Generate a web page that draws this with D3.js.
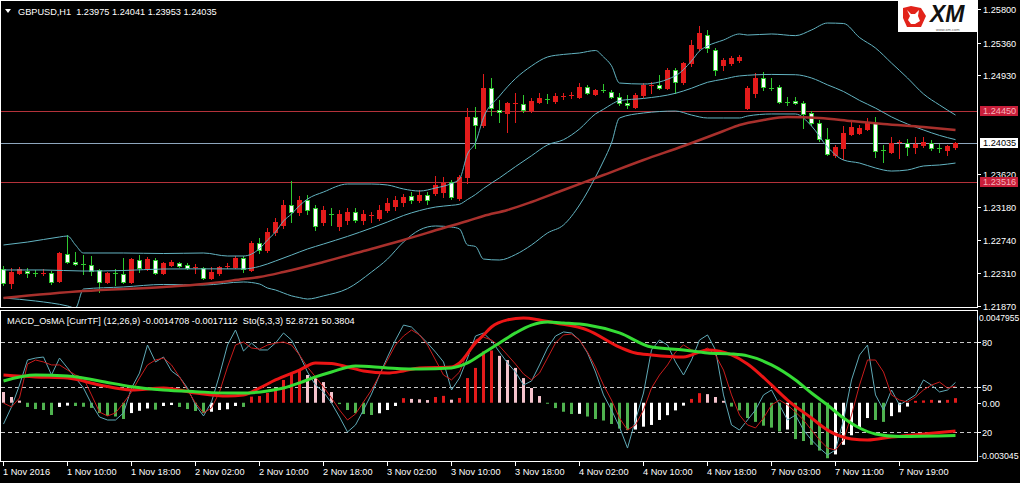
<!DOCTYPE html>
<html><head><meta charset="utf-8">
<script src="https://cdn.jsdelivr.net/npm/d3@7"></script>
<style>
html,body{margin:0;padding:0;background:#000;overflow:hidden}
svg{display:block}
text{font-family:"Liberation Sans",Arial,sans-serif;white-space:pre}
</style></head><body>
<svg id="c" width="1020" height="483"></svg>
<script>
// ---------------- DATA ----------------
const symbolTitle = "GBPUSD,H1  1.23975 1.24041 1.23953 1.24035";
const indTitle = "MACD_OsMA [CurrTF] (12,26,9) -0.0014708 -0.0017112  Sto(5,3,3) 52.8721 50.3804";

const openP = [1.22359,1.22173,1.22306,1.22332,1.22312,1.22306,1.22306,1.22200,1.22558,1.22452,
1.22425,1.22412,1.22346,1.22187,1.22306,1.22293,1.22187,1.22478,1.22372,1.22478,
1.22306,1.22412,1.22438,1.22412,1.22385,1.22372,1.22240,1.22306,1.22392,1.22385,
1.22505,1.22346,1.22703,1.22611,1.22849,1.22942,1.23207,1.23114,1.23273,1.23167,
1.22982,1.23088,1.22929,1.23008,1.23114,1.23008,1.23061,1.23035,1.23141,1.23194,
1.23247,1.23326,1.23273,1.23340,1.23366,1.23379,1.23512,1.23300,1.23578,1.24373,
1.24267,1.24757,1.24466,1.24426,1.24545,1.24545,1.24466,1.24572,1.24611,1.24585,
1.24644,1.24658,1.24638,1.24770,1.24678,1.24731,1.24704,1.24638,1.24558,1.24505,
1.24664,1.24790,1.24797,1.24757,1.24996,1.24837,1.25088,1.25287,1.25459,1.25261,
1.25062,1.25088,1.25128,1.24492,1.24691,1.24890,1.24757,1.24770,1.24572,1.24585,
1.24558,1.24426,1.24293,1.24081,1.23869,1.23962,1.24148,1.24161,1.24214,1.24293,
1.23936,1.23909,1.24035,1.24028,1.23975,1.24002,1.24028,1.23962,1.23936,1.23975];
const highP = [1.22398,1.22372,1.22385,1.22372,1.22346,1.22359,1.22332,1.22584,1.22809,1.22584,
1.22544,1.22531,1.22359,1.22319,1.22359,1.22505,1.22505,1.22544,1.22518,1.22505,
1.22452,1.22478,1.22452,1.22438,1.22425,1.22385,1.22385,1.22398,1.22438,1.22531,
1.22531,1.22730,1.22770,1.22902,1.23035,1.23273,1.23525,1.23326,1.23340,1.23207,
1.23194,1.23167,1.23141,1.23167,1.23167,1.23141,1.23114,1.23207,1.23300,1.23326,
1.23353,1.23379,1.23406,1.23379,1.23591,1.23578,1.23538,1.23604,1.24492,1.24505,
1.24943,1.24890,1.24598,1.24572,1.24691,1.24664,1.24625,1.24691,1.24678,1.24691,
1.24691,1.24704,1.24823,1.24797,1.24744,1.24810,1.24731,1.24691,1.24664,1.24691,
1.24823,1.24837,1.24929,1.25022,1.25022,1.25102,1.25393,1.25579,1.25526,1.25287,
1.25155,1.25181,1.25194,1.24784,1.24956,1.24969,1.24890,1.24797,1.24638,1.24638,
1.24585,1.24452,1.24333,1.24227,1.24002,1.24254,1.24307,1.24267,1.24360,1.24373,
1.24002,1.24108,1.24068,1.24081,1.24108,1.24108,1.24068,1.24015,1.24002,1.24041];
const lowP = [1.22147,1.22107,1.22293,1.22253,1.22266,1.22279,1.22160,1.22187,1.22438,1.22412,
1.22293,1.22279,1.22054,1.22173,1.22147,1.22173,1.22173,1.22319,1.22346,1.22299,
1.22293,1.22398,1.22385,1.22359,1.22306,1.22226,1.22226,1.22279,1.22372,1.22372,
1.22319,1.22332,1.22571,1.22584,1.22809,1.22902,1.22982,1.23074,1.23088,1.22876,
1.22942,1.22942,1.22876,1.22955,1.22982,1.22955,1.22982,1.23008,1.23114,1.23141,
1.23194,1.23234,1.23247,1.23220,1.23340,1.23313,1.23287,1.23273,1.23498,1.23962,
1.24240,1.24399,1.24307,1.24174,1.24307,1.24439,1.24439,1.24558,1.24558,1.24558,
1.24611,1.24625,1.24625,1.24678,1.24671,1.24704,1.24631,1.24532,1.24492,1.24492,
1.24638,1.24691,1.24744,1.24744,1.24691,1.24810,1.25048,1.25261,1.25234,1.24929,
1.24996,1.25062,1.25102,1.24479,1.24638,1.24731,1.24731,1.24558,1.24532,1.24545,
1.24227,1.24267,1.24055,1.23869,1.23843,1.23816,1.24135,1.24148,1.24201,1.23843,
1.23777,1.23896,1.23830,1.23869,1.23896,1.23975,1.23936,1.23909,1.23869,1.23953];
const closeP = [1.22173,1.22319,1.22359,1.22306,1.22306,1.22312,1.22187,1.22571,1.22452,1.22425,
1.22419,1.22332,1.22187,1.22306,1.22299,1.22187,1.22491,1.22372,1.22491,1.22306,
1.22438,1.22452,1.22398,1.22372,1.22392,1.22240,1.22319,1.22385,1.22398,1.22505,
1.22359,1.22703,1.22611,1.22849,1.22982,1.23207,1.23114,1.23273,1.23141,1.22929,
1.23141,1.23074,1.23088,1.23114,1.23008,1.23088,1.23074,1.23141,1.23234,1.23273,
1.23313,1.23273,1.23340,1.23273,1.23472,1.23498,1.23313,1.23578,1.24373,1.24267,
1.24757,1.24492,1.24439,1.24558,1.24558,1.24466,1.24585,1.24625,1.24605,1.24651,
1.24651,1.24664,1.24770,1.24691,1.24731,1.24724,1.24638,1.24558,1.24532,1.24664,
1.24797,1.24797,1.24757,1.24996,1.24837,1.25088,1.25327,1.25486,1.25287,1.24996,
1.25128,1.25155,1.25168,1.24757,1.24890,1.24770,1.24750,1.24572,1.24565,1.24558,
1.24413,1.24293,1.24081,1.23883,1.23975,1.24161,1.24240,1.24227,1.24307,1.23922,
1.23930,1.24028,1.24042,1.23975,1.24015,1.24042,1.23962,1.23955,1.23989,1.24035];

// Bollinger Bands (20,2) at bar indices
const bbUpIdx = [0,3,7,8,9,10,15,20,25,28,30,32,33,34,35,36,37,38,40,43,46,48,50,52,54,56,57,58,59,60,62,64,66,68,70,72,74,75,76,77,80,84,86,87,88,90,92,93,96,99,101,103,105,107,109,111,113,115,117,119];
const bbUp = [1.22677,1.22716,1.22783,1.22796,1.22677,1.22571,1.22571,1.22564,1.22571,1.22531,1.22531,1.22629,1.22743,1.22849,1.22995,1.23088,1.23199,1.23286,1.23379,1.23485,1.23485,1.23472,1.23419,1.23392,1.23432,1.23492,1.23551,1.23882,1.24035,1.24365,1.24651,1.24882,1.25049,1.25168,1.25202,1.25221,1.25254,1.25168,1.25052,1.24823,1.24810,1.24920,1.25115,1.25247,1.25314,1.25393,1.25473,1.25459,1.25473,1.25451,1.25526,1.25618,1.25612,1.25426,1.25287,1.25088,1.24890,1.24678,1.24532,1.24399];
const bbMidIdx = [0,5,10,15,20,25,30,32,34,36,38,40,43,46,48,50,52,54,56,57,58,59,60,62,64,66,68,70,72,74,75,76,77,80,84,86,88,90,92,96,99,101,103,105,107,109,111,113,115,117,119];
const bbMid = [1.22346,1.22346,1.22332,1.22339,1.22359,1.22361,1.22360,1.22393,1.22465,1.22544,1.22624,1.22690,1.22791,1.22902,1.22982,1.23068,1.23133,1.23180,1.23203,1.23217,1.23280,1.23346,1.23427,1.23566,1.23716,1.23860,1.24003,1.24072,1.24214,1.24414,1.24475,1.24541,1.24590,1.24619,1.24687,1.24754,1.24833,1.24874,1.24917,1.24937,1.24933,1.24890,1.24799,1.24711,1.24593,1.24491,1.24374,1.24280,1.24201,1.24129,1.24073];
const bbLowIdx = [0,4,8,9,10,15,20,25,30,32,33,34,35,36,37,38,40,43,46,48,50,52,54,56,57,58,59,60,62,64,66,68,70,72,74,75,76,77,80,84,86,88,90,92,93,96,99,101,103,105,107,109,111,113,115,117,119];
const bbLow = [1.21975,1.21935,1.21869,1.21842,1.22094,1.22121,1.22154,1.22147,1.22187,1.22160,1.22107,1.22081,1.22041,1.22003,1.21980,1.21961,1.22003,1.22099,1.22319,1.22491,1.22717,1.22876,1.22929,1.22915,1.22889,1.22677,1.22657,1.22491,1.22478,1.22550,1.22677,1.22836,1.22942,1.23207,1.23578,1.23790,1.24028,1.24360,1.24426,1.24452,1.24399,1.24360,1.24360,1.24360,1.24386,1.24413,1.24413,1.24254,1.23975,1.23803,1.23763,1.23697,1.23657,1.23671,1.23724,1.23737,1.23763];
// Moving average
const maIdx = [0,10,20,25,30,32,35,40,45,50,55,58,60,63,66,70,75,80,85,90,92,95,98,102,106,110,115,119];
const maVal = [1.21975,1.22067,1.22121,1.22160,1.22226,1.22253,1.22319,1.22452,1.22597,1.22743,1.22902,1.22995,1.23061,1.23141,1.23247,1.23406,1.23604,1.23803,1.23989,1.24187,1.24267,1.24333,1.24373,1.24360,1.24320,1.24280,1.24240,1.24201];

const levelLines = [1.24450, 1.23516];
const bidPrice = 1.24035;
// visible price-scale labels (the two that sit under the level/bid boxes are hidden in the reference)
const priceTicks = [1.25800,1.25360,1.24930,1.23620,1.23180,1.22740,1.22310,1.21870];

// MACD main / signal
const macdIdx = [0,4,8,12,16,20,24,28,30,32,34,37,39,41,43,45,48,50,52,56,57,59,60,61,63,65,67,69,73,77,79,81,85,88,91,93,96,98,101,103,106,108,111,115,119];
const macdVal = [0.00145,0.00135,0.00129,0.00093,0.00067,0.00077,0.00051,0.00035,0.00041,0.00077,0.00119,0.00171,0.00208,0.00205,0.00187,0.00166,0.00155,0.00166,0.00182,0.00187,0.00208,0.00312,0.00354,0.00396,0.00433,0.00443,0.00433,0.00417,0.00380,0.00291,0.00260,0.00250,0.00239,0.00276,0.00250,0.00203,0.00093,0.00014,-0.00080,-0.00143,-0.00189,-0.00195,-0.00179,-0.00163,-0.0014708];
const sigIdx = [0,4,8,12,16,20,24,28,30,33,35,37,39,41,44,48,52,56,58,60,62,64,66,68,70,73,77,81,85,88,91,93,96,99,101,103,105,107,109,112,119];
const sigVal = [0.00114,0.00145,0.00140,0.00114,0.00084,0.00067,0.00058,0.00051,0.00051,0.00061,0.00077,0.00104,0.00135,0.00161,0.00192,0.00182,0.00176,0.00182,0.00208,0.00260,0.00312,0.00365,0.00406,0.00422,0.00417,0.00406,0.00365,0.00291,0.00276,0.00260,0.00255,0.00245,0.00198,0.00119,0.00051,-0.00012,-0.00080,-0.00132,-0.00163,-0.00176,-0.0017112];
// OsMA histogram, one per bar
const osma = [0.00056,0.00030,0.00011,-0.00022,-0.00033,-0.00038,-0.00064,-0.00022,-0.00015,-0.00017,
-0.00021,-0.00027,-0.00054,-0.00069,-0.00072,-0.00085,-0.00054,-0.00042,-0.00030,-0.00036,
-0.00017,-0.00012,-0.00022,-0.00033,-0.00043,-0.00054,-0.00047,-0.00038,-0.00034,-0.00017,
-0.00022,0.00032,0.00035,0.00051,0.00077,0.00119,0.00155,0.00176,0.00145,0.00129,
0.00108,0.00056,-0.00007,-0.00038,-0.00054,-0.00059,-0.00064,-0.00055,-0.00038,-0.00017,
0.00024,0.00020,0.00018,0.00014,0.00030,0.00036,0.00016,0.00025,0.00129,0.00182,
0.00268,0.00273,0.00245,0.00223,0.00182,0.00129,0.00077,0.00035,-0.00005,-0.00028,
-0.00047,-0.00059,-0.00058,-0.00072,-0.00085,-0.00093,-0.00111,-0.00135,-0.00143,-0.00140,
-0.00125,-0.00116,-0.00090,-0.00065,-0.00040,-0.00015,0.00020,0.00050,0.00045,0.00030,
0.00010,-0.00020,-0.00040,-0.00080,-0.00100,-0.00120,-0.00130,-0.00150,-0.00140,-0.00190,
-0.00200,-0.00220,-0.00250,-0.00290,-0.00270,-0.00220,-0.00170,-0.00130,-0.00080,-0.00090,
-0.00100,-0.00070,-0.00050,-0.00020,0.00010,0.00012,0.00015,0.00012,0.00015,0.00024];
// Stochastic (5,3,3)
const stochK = [25.1,36.5,51.1,67.8,69.1,69.8,57.8,69.1,62.5,55.8,
49.1,38.5,29.8,27.8,27.8,32.5,49.1,59.1,77.8,66.5,
69.8,60.5,56.5,49.1,37.8,30.5,39.8,57.8,77.8,87.8,
73.8,79.1,74.5,74.5,79.1,85.8,81.1,71.1,59.8,51.1,
46.5,39.1,29.8,19.8,24.5,34.5,45.1,57.8,69.8,81.1,
91.1,89.8,84.5,79.1,73.1,66.5,47.8,55.8,69.1,83.8,
85.8,80.5,73.1,65.8,59.8,51.1,53.8,64.5,75.8,83.8,
86.5,85.8,81.1,72.5,59.8,44.5,34.5,23.1,9.1,27.8,
45.8,74.5,81.1,77.8,66.5,57.8,67.8,81.1,84.5,74.5,
44.5,24.5,21.1,27.8,34.5,44.5,47.8,37.8,27.8,31.1,
21.1,14.5,9.1,4.5,7.8,27.8,54.5,71.1,77.8,44.5,
34.5,47.8,37.8,41.1,44.5,54.5,51.1,46.5,47.8,52.87];
const stochD = [39.1,36.5,42.5,65.1,67.8,66.5,64.5,64.5,61.1,57.8,
55.8,44.5,33.1,30.5,32.5,39.1,46.5,55.8,64.5,67.8,
69.1,64.5,56.5,47.8,39.1,32.5,35.8,46.5,63.1,77.8,
79.8,75.8,75.1,77.8,79.1,79.8,77.8,71.1,63.1,56.5,
49.8,42.5,34.5,27.8,31.8,39.8,47.8,57.8,67.8,77.8,
83.8,87.8,84.5,77.8,67.8,57.8,54.5,59.8,73.1,81.1,
83.1,81.1,77.1,71.1,65.1,58.5,54.5,59.1,69.1,79.1,
84.5,85.1,81.1,73.1,63.1,51.1,41.1,29.1,21.1,24.5,
34.5,49.1,57.8,64.5,73.1,77.8,74.5,73.1,75.8,71.1,
61.1,44.5,31.1,24.5,22.5,29.1,37.8,41.1,37.8,33.1,
27.8,21.1,14.5,9.1,7.8,14.5,31.1,51.1,67.8,67.8,
59.8,44.5,41.1,39.8,43.1,47.8,51.1,53.1,49.1,50.38];
const stochLevels = [80, 50, 20];
const macdRangeLabels = [0.0047955, -0.003045];

const timeTickIdx = [0,8,16,24,32,40,48,56,64,72,80,88,96,104,112];
const timeTickLabels = ["1 Nov 2016","1 Nov 10:00","1 Nov 18:00","2 Nov 02:00","2 Nov 10:00","2 Nov 18:00","3 Nov 02:00","3 Nov 10:00","3 Nov 18:00","4 Nov 02:00","4 Nov 10:00","4 Nov 18:00","7 Nov 03:00","7 Nov 11:00","7 Nov 19:00"];

// ---------------- DRAW ----------------
const svg = d3.select('#c');
const FS = 9.2;
svg.append('rect').attr('width',1020).attr('height',483).attr('fill','#000');

const N = closeP.length;
const x = d3.scaleLinear().domain([0, N-1]).range([3.5, 955.5]);
const yP = d3.scaleLinear().domain([1.2187, 1.2580]).range([305.9, 9.3]);
const yM = d3.scaleLinear().domain([-0.003045, 0.0047955]).range([461, 311]);
const yS = d3.scaleLinear().domain([0, 100]).range([461.7, 311.7]);
const crisp = v => Math.round(v) + 0.5;

const defs = svg.append('defs');
defs.append('clipPath').attr('id','clipMain').append('rect').attr('x',1).attr('y',1).attr('width',976).attr('height',306);
defs.append('clipPath').attr('id','clipInd').append('rect').attr('x',1).attr('y',311).attr('width',976).attr('height',150);

const gMain = svg.append('g').attr('clip-path','url(#clipMain)');
const gInd = svg.append('g').attr('clip-path','url(#clipInd)');

// horizontal lines
gMain.selectAll('line.lvl').data(levelLines).join('line')
  .attr('x1',1).attr('x2',977).attr('y1',d=>crisp(yP(d))).attr('y2',d=>crisp(yP(d)))
  .attr('stroke','#b4323a').attr('stroke-width',1);
gMain.append('line').attr('x1',1).attr('x2',977).attr('y1',crisp(yP(bidPrice))).attr('y2',crisp(yP(bidPrice)))
  .attr('stroke','#8ea6bd').attr('stroke-width',1);

// candles
const RED = '#e31b1b', GRN = '#2fc82f';
const bars = d3.range(N).map(i => ({i, o:openP[i], h:highP[i], l:lowP[i], c:closeP[i]}));
const gC = gMain.append('g');
bars.forEach(b => {
  const bull = b.c > b.o;
  const col = bull ? RED : GRN;
  const cx = x(b.i);
  gC.append('line').attr('x1',cx).attr('x2',cx).attr('y1',Math.round(yP(b.h))).attr('y2',Math.round(yP(b.l))+1)
    .attr('stroke',col).attr('stroke-width',1);
  const t = Math.round(yP(Math.max(b.o,b.c))), btm = Math.round(yP(Math.min(b.o,b.c)));
  if (btm - t < 2) {
    gC.append('rect').attr('x',cx-2.5).attr('y',t).attr('width',5).attr('height',1).attr('fill',col);
  } else {
    gC.append('rect').attr('x',cx-2).attr('y',t+0.5).attr('width',4).attr('height',btm-t)
      .attr('fill', bull ? RED : '#ffffff').attr('stroke',col).attr('stroke-width',1);
  }
});

// Bollinger + MA
const lineGen = (sy) => d3.line().x(d=>x(d[0])).y(d=>sy(d[1])).curve(d3.curveMonotoneX);
const zip = (a,b) => a.map((v,k)=>[v,b[k]]);
const BB = '#63b4c2';
[[bbUpIdx,bbUp],[bbMidIdx,bbMid],[bbLowIdx,bbLow]].forEach(([ix,v])=>{
  gMain.append('path').attr('d',lineGen(yP)(zip(ix,v))).attr('fill','none').attr('stroke',BB).attr('stroke-width',1);
});
gMain.append('path').attr('d',lineGen(yP)(zip(maIdx,maVal))).attr('fill','none').attr('stroke','#a8302c').attr('stroke-width',2.5);

// frames
svg.append('rect').attr('x',0.5).attr('y',0.5).attr('width',977).attr('height',307).attr('fill','none').attr('stroke','#ffffff').attr('stroke-width',1);
svg.append('rect').attr('x',0.5).attr('y',310.5).attr('width',977).attr('height',151).attr('fill','none').attr('stroke','#ffffff').attr('stroke-width',1);

// right price axis
const gAx = svg.append('g');
priceTicks.forEach(p=>{
  const yy = crisp(yP(p));
  gAx.append('line').attr('x1',978).attr('x2',981).attr('y1',yy).attr('y2',yy).attr('stroke','#fff');
  gAx.append('text').attr('x',983).attr('y',yy).attr('dy','0.35em').attr('font-size',FS).attr('fill','#fff').text(p.toFixed(5));
});
function priceBox(p, bg, fg){
  const yy = yP(p);
  gAx.append('rect').attr('x',980).attr('y',Math.round(yy)-5).attr('width',38).attr('height',10).attr('fill',bg);
  gAx.append('text').attr('x',983).attr('y',yy).attr('dy','0.35em').attr('font-size',FS).attr('fill',fg).text(p.toFixed(5));
}
levelLines.forEach(p=>priceBox(p,'#c81e3a','#f6b3bb'));
priceBox(bidPrice,'#ffffff','#000000');

// header
svg.append('path').attr('d','M5,9 L11,9 L8,13 Z').attr('fill','#fff');
svg.append('text').attr('x',18).attr('y',14.5).attr('font-size',FS).attr('fill','#fff').text(symbolTitle);

// XM logo
const logo = svg.append('g');
logo.append('rect').attr('x',898).attr('y',1).attr('width',79).attr('height',31).attr('fill','#fff');
logo.append('path').attr('d','M903,8 L911,6 L921,8 L926,16 L921,27 L907,27 L903,18 Z').attr('fill','#e2231a');
logo.append('path').attr('d','M907,10 L911,14 L915,14 L919,10 L918,16 L920,21 L915,24 L911,24 L908,20 L910,16 Z').attr('fill','#fff');
logo.append('text').attr('x',930).attr('y',22).attr('font-size',23).attr('font-weight','bold').attr('font-style','italic').attr('fill','#111').text('XM');
logo.append('text').attr('x',936).attr('y',31).attr('font-size',4).attr('fill','#555').text('www.xm.com');

// indicator pane
stochLevels.forEach(v=>{
  gInd.append('line').attr('x1',1).attr('x2',977).attr('y1',crisp(yS(v))).attr('y2',crisp(yS(v)))
    .attr('stroke','#c8c8c8').attr('stroke-width',1).attr('stroke-dasharray','4,3');
});
const HC = {up:'#e31b1b', dn:'#f5c3cc', neg:'#4fb34f', negUp:'#ffffff'};
osma.forEach((v,i)=>{
  const prev = i>0 ? osma[i-1] : v;
  let col;
  if (v >= 0) col = (i>0 && v > prev) ? HC.up : HC.dn;
  else col = (v < prev) ? HC.neg : HC.negUp;
  const y0 = yM(0), y1 = yM(v);
  gInd.append('rect').attr('x',x(i)-1.5).attr('y',Math.min(y0,y1)).attr('width',3)
    .attr('height',Math.max(1,Math.abs(y1-y0))).attr('fill',col);
});
const sLine = d3.line().x((d,i)=>x(i)).y(d=>yS(d));
gInd.append('path').attr('d',sLine(stochK)).attr('fill','none').attr('stroke','#5fa9b6').attr('stroke-width',1);
gInd.append('path').attr('d',sLine(stochD)).attr('fill','none').attr('stroke','#c81c1c').attr('stroke-width',1);
gInd.append('path').attr('d',lineGen(yM)(zip(macdIdx,macdVal))).attr('fill','none').attr('stroke','#ec1515').attr('stroke-width',3);
gInd.append('path').attr('d',lineGen(yM)(zip(sigIdx,sigVal))).attr('fill','none').attr('stroke','#35dc35').attr('stroke-width',3);

svg.append('text').attr('x',7).attr('y',323.5).attr('font-size',FS).attr('fill','#fff').text(indTitle);

// indicator right axis
const gIA = svg.append('g');
gIA.append('text').attr('x',979).attr('y',yM(macdRangeLabels[0])+7).attr('dy','0.35em').attr('font-size',8.5).attr('fill','#fff').text(String(macdRangeLabels[0]));
gIA.append('text').attr('x',979).attr('y',yM(macdRangeLabels[1])-5).attr('dy','0.35em').attr('font-size',8.8).attr('fill','#fff').text(String(macdRangeLabels[1]));
stochLevels.forEach(v=>{
  const yy = crisp(yS(v));
  gIA.append('line').attr('x1',978).attr('x2',981).attr('y1',yy).attr('y2',yy).attr('stroke','#fff');
  gIA.append('text').attr('x',982).attr('y',yy).attr('dy','0.35em').attr('font-size',FS).attr('fill','#fff').text(String(v));
});
{
  const yy = crisp(yM(0));
  gIA.append('line').attr('x1',978).attr('x2',981).attr('y1',yy).attr('y2',yy).attr('stroke','#fff');
  gIA.append('text').attr('x',982).attr('y',yy).attr('dy','0.35em').attr('font-size',FS).attr('fill','#fff').text('0.00');
}

// time axis
const gT = svg.append('g');
timeTickIdx.forEach((ix,k)=>{
  const xx = x(ix);
  gT.append('line').attr('x1',xx).attr('x2',xx).attr('y1',462).attr('y2',466).attr('stroke','#fff');
  gT.append('text').attr('x',xx-0.5).attr('y',474.5).attr('font-size',FS).attr('fill','#fff').text(timeTickLabels[k]);
});
</script></body></html>
